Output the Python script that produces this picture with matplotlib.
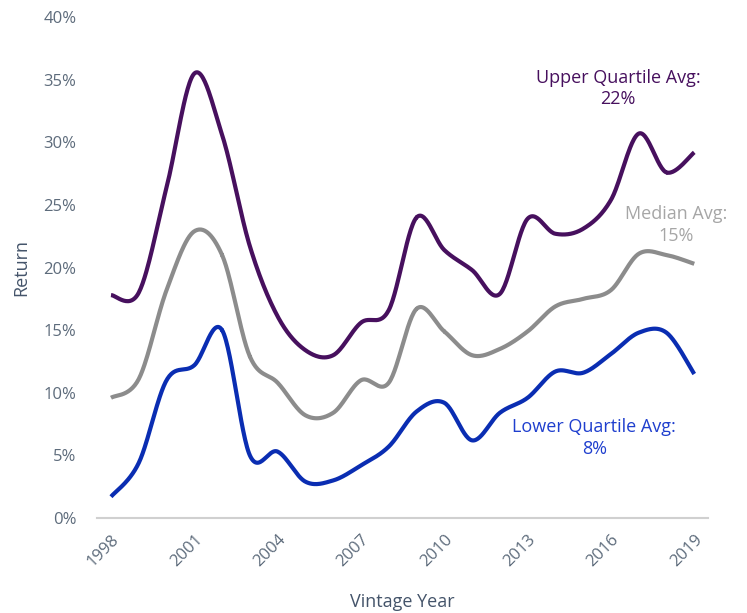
import numpy as np
import matplotlib.pyplot as plt

years = list(range(1998, 2020))
upper = [17.8, 18.0, 26.4, 35.5, 30.6, 21.7, 16.1, 13.4, 13.0, 15.6, 16.6, 24.0,
         21.4, 19.8, 17.9, 23.9, 22.7, 23.1, 25.4, 30.7, 27.6, 29.2]
median = [9.6, 11.1, 18.2, 22.9, 21.0, 12.9, 10.8, 8.2, 8.4, 11.0, 10.8, 16.7,
          14.9, 13.0, 13.5, 14.9, 16.9, 17.5, 18.2, 21.1, 21.0, 20.3]
lower = [1.7, 4.4, 11.0, 12.2, 15.0, 5.0, 5.3, 2.9, 3.0, 4.2, 5.7, 8.5,
         9.2, 6.2, 8.4, 9.6, 11.7, 11.6, 13.1, 14.8, 14.8, 11.5]

c_upper = '#47105e'
c_median = '#8c8c8c'
c_lower = '#0a2db2'
c_axis = '#44546a'


def smooth(x, y, n=30):
    # catmull-rom through the points, like excel's smoothed line
    x = np.asarray(x, float)
    y = np.asarray(y, float)
    px = np.concatenate([[x[0]], x, [x[-1]]])
    py = np.concatenate([[y[0]], y, [y[-1]]])
    xs, ys = [], []
    t = np.linspace(0, 1, n)
    for i in range(1, len(px) - 2):
        for p, out in ((px, xs), (py, ys)):
            p0, p1, p2, p3 = p[i - 1], p[i], p[i + 1], p[i + 2]
            out.extend(0.5 * (2 * p1 + (-p0 + p2) * t
                              + (2 * p0 - 5 * p1 + 4 * p2 - p3) * t ** 2
                              + (-p0 + 3 * p1 - 3 * p2 + p3) * t ** 3))
    return np.array(xs), np.array(ys)


plt.rcParams['font.family'] = ['Open Sans', 'DejaVu Sans']

fig = plt.figure(figsize=(7.47, 6.13), dpi=100)
ax = fig.add_axes([0.130, 0.155, 0.818, 0.817])

for vals, col in ((upper, c_upper), (median, c_median), (lower, c_lower)):
    sx, sy = smooth(years, vals)
    ax.plot(sx, sy, color=col, lw=3.0, solid_capstyle='butt')

ax.set_xlim(1997.5, 2019.5)
ax.set_ylim(0, 40)
ax.set_yticks(range(0, 41, 5))
ax.set_yticklabels([f'{v}%' for v in range(0, 41, 5)])
ax.set_xticks(years[::3])
ax.set_xticklabels([str(y) for y in years[::3]], rotation=45, ha='right',
                   va='top', rotation_mode='anchor')
ax.tick_params(length=0, labelsize=12, colors='#5d6b7b')
ax.tick_params(axis='y', pad=15)
ax.tick_params(axis='x', pad=10)

for s in ('top', 'right', 'left'):
    ax.spines[s].set_visible(False)
ax.spines['bottom'].set_color('#d0d0d0')
ax.spines['bottom'].set_linewidth(1.5)

ax.set_ylabel('Return', fontsize=13, color=c_axis, labelpad=9)
ax.set_xlabel('Vintage Year', fontsize=13, color=c_axis, labelpad=16)

ax.text(2016.25, 34.3, 'Upper Quartile Avg:\n22%', color=c_upper, fontsize=13,
        ha='center', va='center', linespacing=1.25)
ax.text(2018.35, 23.4, 'Median Avg:\n15%', color='#a6a6a6', fontsize=13,
        ha='center', va='center', linespacing=1.25)
ax.text(2015.4, 6.4, 'Lower Quartile Avg:\n8%', color='#1f3fce', fontsize=13,
        ha='center', va='center', linespacing=1.25)

fig.savefig('out.png', dpi=100)
